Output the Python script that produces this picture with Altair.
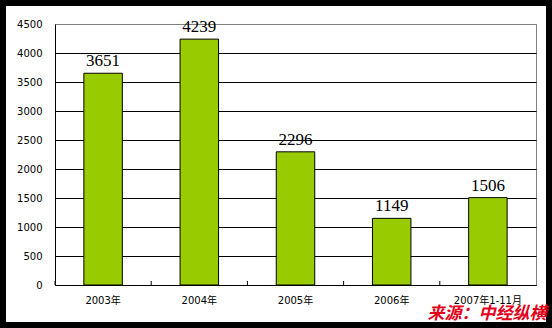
import altair as alt
import pandas as pd

categories = ["2003年", "2004年", "2005年", "2006年", "2007年1-11月"]
values = [3651, 4239, 2296, 1149, 1506]
y_ticks = [0, 500, 1000, 1500, 2000, 2500, 3000, 3500, 4000, 4500]
source_text = "来源：中经纵横"

df = pd.DataFrame({"cat": categories, "val": values})

W, H = 481, 261

xscale = alt.Scale(domain=categories, paddingInner=0, paddingOuter=0)
yscale = alt.Scale(domain=[0, 4500], nice=False)

x_axis = alt.Axis(title=None, labelAngle=0, ticks=False, domainColor="black",
                  labelFont="DejaVu Sans, Noto Sans CJK SC", labelFontSize=10,
                  labelColor="#000000", labelPadding=10, grid=False, labelOverlap=False)
y_axis = alt.Axis(title=None, values=y_ticks, format="d", ticks=False, domainColor="black",
                  labelFont="DejaVu Sans", labelFontSize=10, labelColor="#000000",
                  labelPadding=13, grid=True, labelOverlap=False,
                  gridColor={"condition": {"test": "datum.value === 4500", "value": "#808080"},
                             "value": "black"},
                  gridOpacity=1, gridWidth=1)

base = alt.Chart(df)

bars = base.mark_bar(width=alt.RelativeBandSize(0.4), color="#99CC00",
                     stroke="black", strokeWidth=1).encode(
    x=alt.X("cat:N", scale=xscale, axis=x_axis, sort=categories),
    y=alt.Y("val:Q", scale=yscale, axis=y_axis),
)

labels = base.mark_text(font="Liberation Serif", fontSize=17, color="black",
                        baseline="alphabetic", dy=-7).encode(
    x=alt.X("cat:N", scale=xscale, sort=categories, axis=x_axis),
    y=alt.Y("val:Q", scale=yscale, axis=y_axis),
    text=alt.Text("val:Q", format="d"),
)

ticks = base.mark_rule(color="black", strokeWidth=1).encode(
    x=alt.X("cat:N", scale=xscale, sort=categories, bandPosition=0, axis=x_axis),
    y=alt.value(H - 4),
    y2=alt.value(H),
)

border = alt.Chart(pd.DataFrame({"a": [0]})).mark_rect(
    fill="white", fillOpacity=0, stroke="black", strokeWidth=6).encode(
    x=alt.value(-52), x2=alt.value(494), y=alt.value(-21), y2=alt.value(301)
)

source = alt.Chart(pd.DataFrame({"t": [source_text]})).mark_text(
    font="Noto Sans CJK SC", fontSize=17, fontWeight="bold", fontStyle="italic",
    color="#E3001B", align="center", baseline="middle").encode(
    x=alt.value(432), y=alt.value(290), text="t:N"
)

chart = alt.layer(bars, ticks, labels, border, source).properties(
    width=W, height=H,
    autosize=alt.AutoSizeParams(type="none"),
    padding={"left": 55, "top": 24, "right": 16, "bottom": 43},
    background="white",
).configure_view(stroke="#808080", strokeWidth=1)

chart.save("out.html", embed_options={"renderer": "svg", "actions": False})
